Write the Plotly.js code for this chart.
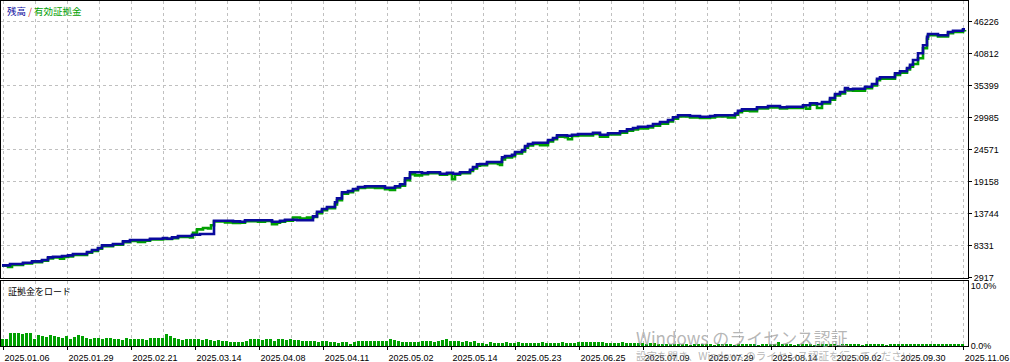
<!DOCTYPE html>
<html>
<head>
<meta charset="utf-8">
<script src="https://cdn.plot.ly/plotly-3.0.1.min.js"></script>
<style>
html,body{margin:0;padding:0;background:#fff;}
#chart{width:1010px;height:362px;}
</style>
</head>
<body>
<div id="chart"></div>
<script>
// ---- Data ----
// x = deal position along the history axis
const dateTickDeals = [3,67,131,195,259,323,387,451,515,579,643,707,771,835,899,963];
const dateTickLabels = ['2025.01.06','2025.01.29','2025.02.21','2025.03.14','2025.04.08','2025.04.11','2025.05.02','2025.05.14','2025.05.23','2025.06.25','2025.07.09','2025.07.29','2025.08.14','2025.09.02','2025.09.30','2025.11.06'];

const valueTicks = [2917, 8331, 13744, 19158, 24571, 29985, 35399, 40812, 46226];
const valueTickLabels = ['2917','8331','13744','19158','24571','29985','35399','40812','46226'];

const loadTicks = [0, 10];
const loadTickLabels = ['0.0%','10.0%'];

const balanceDeal = [2,10,23,32,42,48,53,62,68,73,87,92,98,102,113,123,130,150,163,167,172,178,192,200,214,233,
  240,245,272,280,285,297,313,317,322,327,335,337,342,348,353,358,365,385,395,400,405,410,422,428,440,447,453,460,470,473,477,
  480,487,502,505,512,515,522,525,528,533,548,553,557,567,572,578,593,600,608,620,627,633,638,648,653,660,668,673,678,690,700,710,715,
  735,738,742,757,768,780,787,803,810,817,822,830,835,840,845,848,853,865,872,877,880,895,900,907,910,913,918,923,927,928,938,948,953,963,965];
const balance = [4981,5201,5421,5657,5877,6334,6436,6554,6672,6892,7231,7569,7907,8364,8584,9041,9261,9481,9599,9481,9718,9938,10157,10276,12526,12424,
  12357,12594,12357,12509,12695,12594,13270,14049,14505,14844,15639,16315,17331,17550,17889,18227,18346,18109,18346,18684,19699,20714,20596,20714,20477,20629,20477,20714,21154,21611,22067,
  22118,22457,23252,23472,23691,24148,24487,25163,25502,25722,26178,26517,26973,26889,27075,27193,27413,27075,27312,27650,27989,28208,28428,28547,28885,29224,29562,30019,30357,30239,30120,30239,30357,
  30662,31135,31372,31710,31930,31710,31812,32049,32387,32269,32607,33284,33960,34299,34975,34756,34857,35195,35652,36549,36786,37462,37801,38359,38917,39712,40846,42199,43654,44111,43891,44449,44669,44906,44906];

const equityDeal = [2,8,12,23,32,42,48,53,60,64,68,73,87,92,98,102,113,123,130,138,145,150,163,172,178,190,193,197,203,208,211,214,225,233,
  240,245,258,265,272,277,280,285,293,300,307,313,317,322,327,335,337,342,348,353,358,365,375,385,390,395,400,405,410,415,422,428,440,447,452,455,460,470,473,477,
  480,487,498,500,502,505,512,515,522,525,528,533,540,548,553,557,565,568,572,578,593,600,608,620,627,633,638,648,653,660,668,673,678,690,700,710,715,
  720,728,735,738,742,750,757,768,780,787,803,806,810,817,822,830,835,840,845,848,853,865,872,877,880,895,900,907,910,913,918,923,927,928,938,948,953,963,965];
const equity = [4900,4700,5050,5300,5500,5750,6150,6300,6100,6400,6500,6750,7100,7400,7800,8200,8450,8900,9100,8950,9150,9350,9450,9550,9800,9700,10500,11070,11290,11200,11750,12400,12250,12150,
  12200,12450,12350,12500,11950,12200,12350,12550,13070,12900,13050,13150,13800,14300,14650,15300,16000,17100,17350,17700,18050,18150,18050,17850,17750,18150,18450,19400,20400,20200,20400,20550,20300,20450,19550,20300,20550,20950,21350,21850,
  21900,22250,22150,21950,22900,23250,23450,23900,24250,24900,25250,25500,25300,25950,26300,26750,26650,26300,26850,26950,27200,26750,27100,27400,27750,27950,28150,28300,28600,28950,29300,29800,30150,30000,29900,30000,30150,
  30150,30000,30450,30900,31150,31050,31500,31700,31500,31600,31850,31474,32150,31600,32350,33000,33700,34050,34700,34550,34520,34950,35400,36300,36550,37200,37550,38100,38600,39036,40000,41690,43300,43900,43700,44250,44450,44750,44800];

// margin load (%) per deal group, groups every 4 deals starting at deal 2
const loadStartDeal = 2;
const loadStep = 4;
const marginLoad = [1.1,1.1,2.2,2.1,2.2,2.0,2.2,2.1,1.1,1.8,1.7,1.5,1.8,1.6,1.5,1.3,1.6,1.2,1.5,1.8,1.7,1.3,1.2,1.4,1.3,
  1.2,1.4,1.3,1.2,1.2,1.0,1.3,1.2,1.1,1.1,1.2,1.0,1.4,1.4,1.3,1.4,2.0,1.6,1.4,1.1,1.0,1.1,1.2,1.1,1.1,
  1.0,1.1,1.0,0.9,1.0,0.8,0.9,0.7,0.7,0.7,0.6,0.8,1.1,1.1,1.1,1.0,1.1,1.1,0.8,1.1,1.1,1.0,1.1,1.0,1.0,
  0.9,0.9,0.8,0.9,0.7,0.9,0.8,0.6,0.7,0.5,0.6,0.6,0.4,0.6,0.8,0.8,0.8,0.8,0.9,0.8,0.8,0.9,1.1,1.0,0.8,
  0.7,0.6,0.7,0.7,0.6,0.8,0.8,0.8,0.7,0.8,1.0,1.1,0.8,0.8,0.8,0.7,0.8,0.7,0.8,0.5,0.5,0.4,0.6,0.5,0.5,
  0.5,0.6,0.55,0.5,0.6,0.5,0.45,0.55,0.5,0.5,0.6,0.5,0.55,0.45,0.5,0.6,0.5,0.5,0.45,0.6,0.65,0.7,0.6,0.65,0.6,
  0.6,0.5,0.55,0.55,0.5,0.6,0.5,0.55,0.5,0.45,0.45,0.4,0.45,0.5,0.4,0.35,0.3,0.35,0.3,0.3,0.35,0.3,0.25,0.3,0.3,
  0.35,0.3,0.3,0.25,0.3,0.35,0.3,0.3,0.25,0.3,0.35,0.3,0.3,0.3,0.25,0.3,0.3,0.35,0.3,0.75,0.4,0.3,0.3,0.25,0.3,
  0.35,0.3,0.3,0.25,0.3,0.3,0.35,0.3,0.3,0.25,0.3,0.3,0.35,0.3,0.3,0.25,0.3,0.35,0.3,0.3,0.3,0.25,0.3,0.3,0.35,
  0.3,0.3,0.3,0.4,0.35,0.3,0.35,0.4,0.35,0.3,0.35,0.3,0.35,0.3,0.35,0.3];

// ---- Build chart ----
const loadDeal = marginLoad.map((_, i) => loadStartDeal + i * loadStep);
const minorGrid = dateTickDeals.slice(0, -1).map((v, i) => (v + dateTickDeals[i + 1]) / 2);

const BLUE = '#0a0a9e';
const GREEN = '#00a000';
const GRID = '#c0c0c0';
const FONT = '"Liberation Sans", Arial, sans-serif';

const traces = [
  {x: equityDeal, y: equity, type: 'scatter', mode: 'lines', line: {color: GREEN, width: 2.6, shape: 'hv'}, xaxis: 'x2', yaxis: 'y', hoverinfo: 'skip'},
  {x: balanceDeal, y: balance, type: 'scatter', mode: 'lines', line: {color: BLUE, width: 2.6, shape: 'hv'}, xaxis: 'x2', yaxis: 'y', hoverinfo: 'skip'},
  {x: loadDeal, y: marginLoad, type: 'bar', width: 3, marker: {color: GREEN, line: {width: 0}}, xaxis: 'x', yaxis: 'y2', hoverinfo: 'skip'}
];

const commonX = {
  range: [1, 968],
  tickmode: 'array',
  tickvals: dateTickDeals,
  showgrid: true,
  gridcolor: GRID,
  griddash: '3px,3px',
  gridwidth: 1,
  zeroline: false,
  showline: true,
  linecolor: '#000',
  linewidth: 1,
  mirror: true,
  minor: {tickmode: 'array', tickvals: minorGrid, showgrid: true, gridcolor: GRID, griddash: '3px,3px', gridwidth: 1, ticks: ''}
};

const layout = {
  width: 1010,
  height: 362,
  margin: {l: 1, r: 42, t: 1, b: 16, pad: 0},
  paper_bgcolor: '#fff',
  plot_bgcolor: '#fff',
  showlegend: false,
  bargap: 0,
  font: {family: FONT, size: 9, color: '#000'},
  xaxis: Object.assign({}, commonX, {
    anchor: 'y2',
    ticktext: dateTickLabels,
    ticks: 'outside', ticklen: 3, tickcolor: '#000',
    ticklabelshift: 24,
    tickfont: {family: FONT, size: 9, color: '#000'}
  }),
  xaxis2: Object.assign({}, commonX, {
    anchor: 'y',
    matches: 'x',
    showticklabels: false,
    ticks: ''
  }),
  yaxis: {
    domain: [0.197, 1],
    anchor: 'x2',
    side: 'right',
    range: [2832, 49694],
    tickmode: 'array',
    tickvals: valueTicks,
    ticktext: valueTickLabels,
    ticks: 'outside', ticklen: 3, tickcolor: '#000',
    tickfont: {family: FONT, size: 9, color: '#000'},
    showgrid: true, gridcolor: GRID, griddash: '3px,3px', gridwidth: 1,
    zeroline: false,
    showline: true, linecolor: '#000', linewidth: 1, mirror: true
  },
  yaxis2: {
    domain: [0, 0.188],
    anchor: 'x',
    side: 'right',
    range: [0, 10.83],
    tickmode: 'array',
    tickvals: loadTicks,
    ticktext: loadTickLabels,
    ticks: '', 
    tickfont: {family: FONT, size: 9, color: '#000'},
    showgrid: false,
    zeroline: false,
    showline: true, linecolor: '#000', linewidth: 1, mirror: true
  },
  annotations: [
    {xref: 'paper', yref: 'paper', x: 0.004, y: 0.997, xanchor: 'left', yanchor: 'top', showarrow: false,
     text: '<span style="color:#0a0a9e">残高</span> <span style="color:#d03030">/</span> <span style="color:#00a000">有効証拠金</span>',
     font: {family: '"Noto Sans CJK JP", sans-serif', size: 9.5}},
    {xref: 'paper', yref: 'paper', x: 0.005, y: 0.183, xanchor: 'left', yanchor: 'top', showarrow: false,
     text: '証拠金をロード', font: {family: '"Noto Sans CJK JP", sans-serif', size: 9, color: '#000'}},
    {xref: 'paper', yref: 'paper', x: 0.655, y: 0.026, xanchor: 'left', yanchor: 'middle', showarrow: false,
     text: 'Windows のライセンス認証', font: {family: '"Noto Sans CJK JP", sans-serif', size: 17, color: 'rgba(150,150,150,0.7)'}},
    {xref: 'paper', yref: 'paper', x: 0.655, y: -0.028, xanchor: 'left', yanchor: 'middle', showarrow: false,
     text: '設定を開き、Windows のライセンス認証を行ってください。', font: {family: '"Noto Sans CJK JP", sans-serif', size: 10.5, color: 'rgba(150,150,150,0.7)'}}
  ]
};

Plotly.newPlot('chart', traces, layout, {displayModeBar: false, staticPlot: true});
</script>
</body>
</html>
